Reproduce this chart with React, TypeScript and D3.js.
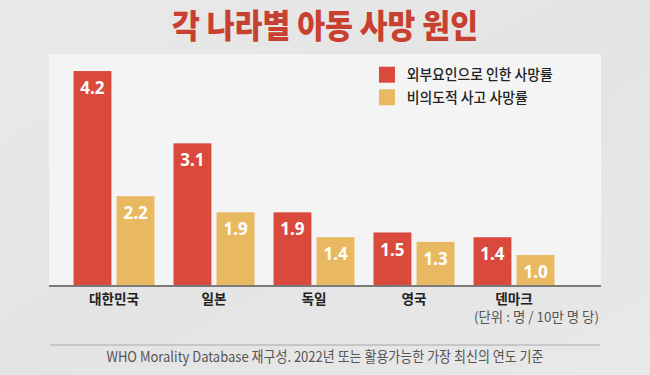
import React, { useLayoutEffect, useRef } from "react";
import * as d3 from "d3";

const countries = ["대한민국", "일본", "독일", "영국", "덴마크"];
const externalRate = [4.2, 3.1, 1.9, 1.5, 1.4];
const accidentRate = [2.2, 1.9, 1.4, 1.3, 1.0];
const seriesNames = ["외부요인으로 인한 사망률", "비의도적 사고 사망률"];
const title = "각 나라별 아동 사망 원인";
const unitNote = "(단위 : 명 / 10만 명 당)";
const sourceNote = "WHO Morality Database 재구성. 2022년 또는 활용가능한 가장 최신의 연도 기준";

const W = 650;
const H = 375;
const FONT = "'Noto Sans CJK KR', 'Noto Sans', sans-serif";
const RED = "#d94a3d";
const YELLOW = "#e8b960";
const TITLE_RED = "#c8402f";

// Text squeezed (condensed) to a target width, or by a factor.
function CText(props: any) {
  const { squeeze = 0.85, width, children, ...rest } = props;
  const ref = useRef<SVGTextElement>(null);
  useLayoutEffect(() => {
    const el = ref.current;
    if (!el) return;
    el.removeAttribute("textLength");
    const len = el.getComputedTextLength();
    const target = width != null ? width : len * squeeze;
    el.setAttribute("textLength", String(target));
    el.setAttribute("lengthAdjust", "spacingAndGlyphs");
  }, [children, squeeze, width]);
  return (
    <text ref={ref} {...rest}>
      {children}
    </text>
  );
}

export default function App() {
  const axisY = 286;
  const panel = { x0: 49, x1: 601, y0: 54 };

  const x = d3
    .scaleBand<string>()
    .domain(countries)
    .range([64, 564])
    .paddingInner(0.19)
    .paddingOuter(0.095);
  const sub = d3
    .scaleBand<string>()
    .domain(["ext", "acc"])
    .range([0, x.bandwidth()])
    .paddingInner(0.12);
  const y = d3.scalePow().exponent(1.35).domain([0, 5]).range([axisY, axisY - 272]);

  const series = [
    { key: "ext", values: externalRate, color: RED },
    { key: "acc", values: accidentRate, color: YELLOW },
  ];

  return (
    <svg
      width={W}
      height={H}
      style={{ position: "absolute", left: 0, top: 0, display: "block" }}
      fontFamily={FONT}
    >
      <defs>
        <linearGradient id="bg" x1="0" y1="0" x2="1" y2="1">
          <stop offset="0" stopColor="#e9e9e9" />
          <stop offset="0.5" stopColor="#e4e4e4" />
          <stop offset="1" stopColor="#e8e8e8" />
        </linearGradient>
      </defs>
      <rect x={0} y={0} width={W} height={H} fill="url(#bg)" />
      <rect
        x={panel.x0}
        y={panel.y0}
        width={panel.x1 - panel.x0}
        height={axisY - panel.y0}
        fill="#f4f4f4"
      />

      <CText
        x={W / 2}
        y={26}
        dy="0.36em"
        textAnchor="middle"
        fontSize={33}
        fontWeight={900}
        fill={TITLE_RED}
        width={306}
      >
        {title}
      </CText>

      {series.map((s) => (
        <g key={s.key}>
          {countries.map((c, i) => {
            const bx = (x(c) as number) + (sub(s.key) as number);
            const top = y(s.values[i]);
            return (
              <g key={c}>
                <rect
                  x={bx}
                  y={top}
                  width={sub.bandwidth()}
                  height={axisY - top}
                  fill={s.color}
                />
                <text
                  x={bx + sub.bandwidth() / 2}
                  y={top + 17}
                  dy="0.36em"
                  textAnchor="middle"
                  fontSize={17}
                  fontWeight={700}
                  fill="#ffffff"
                  fontFamily="'Noto Sans', sans-serif"
                >
                  {d3.format(".1f")(s.values[i])}
                </text>
              </g>
            );
          })}
        </g>
      ))}

      <line x1={panel.x0} x2={panel.x1} y1={axisY} y2={axisY} stroke="#7a7a7a" strokeWidth={2} />

      {countries.map((c) => (
        <CText
          key={c}
          x={(x(c) as number) + x.bandwidth() / 2}
          y={298.5}
          dy="0.36em"
          textAnchor="middle"
          fontSize={14}
          fontWeight={700}
          fill="#222"
          width={c.length * 12.5}
        >
          {c}
        </CText>
      ))}

      {series.map((s, i) => (
        <g key={s.key} transform={`translate(379,${66.7 + i * 22.6})`}>
          <rect x={0} y={0} width={16} height={16} fill={s.color} />
          <CText
            x={27.7}
            y={8}
            dy="0.36em"
            fontSize={15}
            fontWeight={500}
            fill="#222"
            width={i === 0 ? 146 : 121}
          >
            {seriesNames[i]}
          </CText>
        </g>
      ))}

      <CText
        x={599}
        y={317}
        dy="0.36em"
        textAnchor="end"
        fontSize={13.5}
        fontWeight={400}
        fill="#555"
        width={125}
      >
        {unitNote}
      </CText>

      <line x1={50} x2={600} y1={345} y2={345} stroke="#a8a8a8" strokeWidth={1} />

      <CText
        x={W / 2}
        y={357}
        dy="0.36em"
        textAnchor="middle"
        fontSize={14.5}
        fontWeight={400}
        fill="#555"
        width={437}
      >
        {sourceNote}
      </CText>
    </svg>
  );
}
